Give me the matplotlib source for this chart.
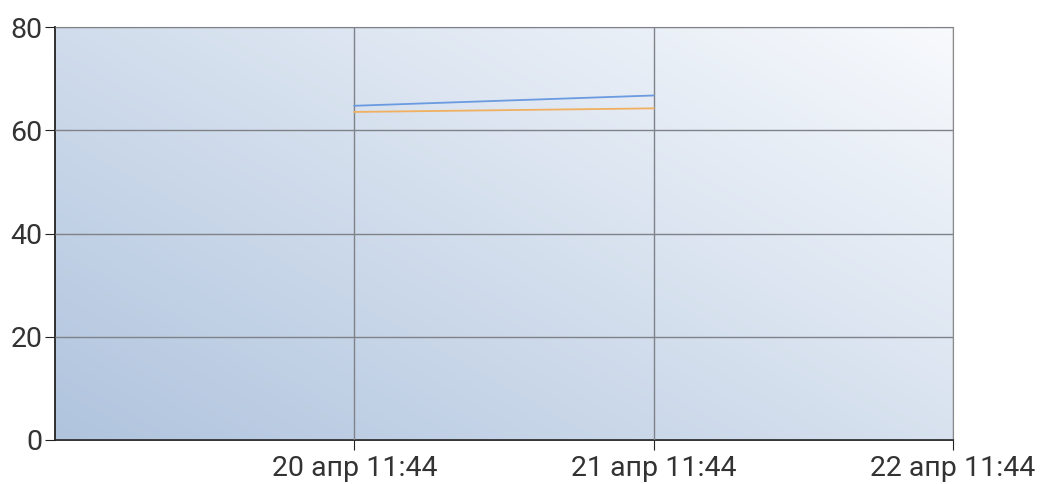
import matplotlib
matplotlib.use("Agg")
import matplotlib.pyplot as plt
import matplotlib.dates as mdates
import numpy as np
from datetime import datetime, timedelta

times = [datetime(2015, 4, 20, 11, 44), datetime(2015, 4, 21, 11, 44)]
series_blue = [64.8, 66.8]
series_orange = [63.6, 64.3]
x_start = datetime(2015, 4, 19, 11, 44)
x_end = datetime(2015, 4, 22, 11, 44)
tick_times = [datetime(2015, 4, 20, 11, 44), datetime(2015, 4, 21, 11, 44), datetime(2015, 4, 22, 11, 44)]
yticks = [0, 20, 40, 60, 80]
ru_months = ["янв", "фев", "мар", "апр", "май", "июн", "июл", "авг", "сен", "окт", "ноя", "дек"]

plt.rcParams['font.family'] = ['Roboto', 'DejaVu Sans']

fig = plt.figure(figsize=(10.41, 4.84), dpi=100)
ax = fig.add_axes([0.0528, 0.0919, 0.8627, 0.8513])

# gradient background: bottom-left blue, top-right white
n = 256
xx, yy = np.meshgrid(np.linspace(0, 1, n), np.linspace(0, 1, n))
t = np.clip((xx * 0.55 + yy * 0.45), 0, 1)
c0 = np.array([0xb0, 0xc4, 0xde]) / 255.0
c1 = np.array([0xf8, 0xfa, 0xfd]) / 255.0
img = c0[None, None, :] * (1 - t[..., None]) + c1[None, None, :] * t[..., None]
ax.imshow(img, extent=[0, 1, 0, 1], transform=ax.transAxes, origin='lower',
          aspect='auto', zorder=0)

ax.plot(times, series_blue, color='#6a9ae0', lw=1.3, zorder=3)
ax.plot(times, series_orange, color='#f0b060', lw=1.3, zorder=3)

ax.set_xlim(x_start, x_end)
ax.set_ylim(0, 80)
ax.set_xticks(tick_times)
ax.xaxis.set_major_formatter(matplotlib.ticker.FuncFormatter(
    lambda v, p: (lambda d: f"{d.day} {ru_months[d.month-1]} {d:%H:%M}")(mdates.num2date(v))))
ax.set_yticks(yticks)
ax.grid(True, color='#7f8389', lw=1.0, zorder=1)
ax.set_axisbelow(False)
for s in ['top', 'right']:
    ax.spines[s].set_color('#8a8a8a')
for s in ['left', 'bottom']:
    ax.spines[s].set_color('#222222')
    ax.spines[s].set_linewidth(1.3)
ax.tick_params(axis='both', length=7, color='#222222', labelsize=20.5, labelcolor='#333333')
ax.tick_params(axis='x', pad=4)
ax.tick_params(axis='y', pad=2)

fig.savefig('out.png', dpi=100)
